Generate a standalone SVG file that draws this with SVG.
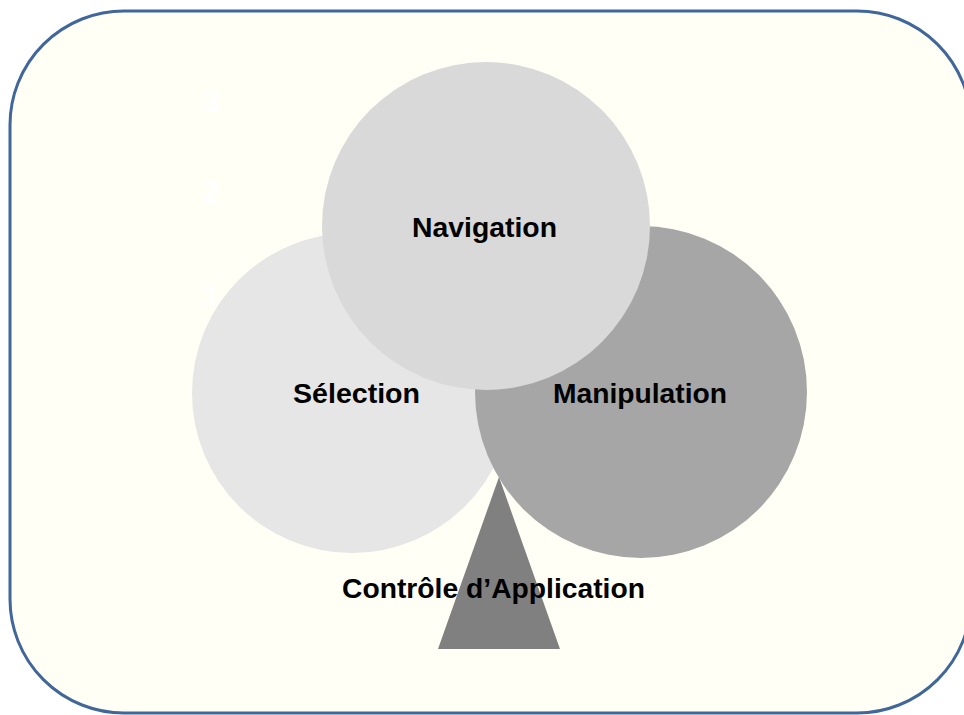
<svg xmlns="http://www.w3.org/2000/svg" width="964" height="715" viewBox="0 0 964 715">
<style>
.lbl{font-family:"Liberation Sans",Arial,sans-serif;font-weight:bold;font-size:28px;fill:#000}
.num{font-family:"Liberation Sans",Arial,sans-serif;font-weight:bold;font-size:32px;fill:#ffffff}
</style>
<rect width="964" height="715" fill="#ffffff"/>
<g id="frame">
<rect x="10" y="11" width="961" height="702" rx="114" ry="114" fill="#fffff5" stroke="#41679a" stroke-width="3"/>
</g>
<g id="numbers">
<text class="num" x="202" y="112">3</text>
<text class="num" x="202" y="203">2</text>
<text class="num" x="202" y="306">1</text>
</g>
<g id="selection">
<circle cx="352" cy="393" r="160" fill="#e6e6e6"/>
<text class="lbl" x="293" y="403" textLength="127" lengthAdjust="spacingAndGlyphs">Sélection</text>
</g>
<g id="manipulation">
<circle cx="641" cy="392" r="166" fill="#a6a6a6"/>
<text class="lbl" x="553" y="403" textLength="174" lengthAdjust="spacingAndGlyphs">Manipulation</text>
</g>
<g id="navigation">
<circle cx="486" cy="226" r="164" fill="#d9d9d9"/>
<text class="lbl" x="412" y="237" textLength="145" lengthAdjust="spacingAndGlyphs">Navigation</text>
</g>
<g id="controle">
<polygon points="499,477 560,649 438,649" fill="#808080"/>
<text class="lbl" x="342" y="598" textLength="303" lengthAdjust="spacingAndGlyphs">Contrôle d’Application</text>
</g>
<g id="connectors"/>
</svg>
